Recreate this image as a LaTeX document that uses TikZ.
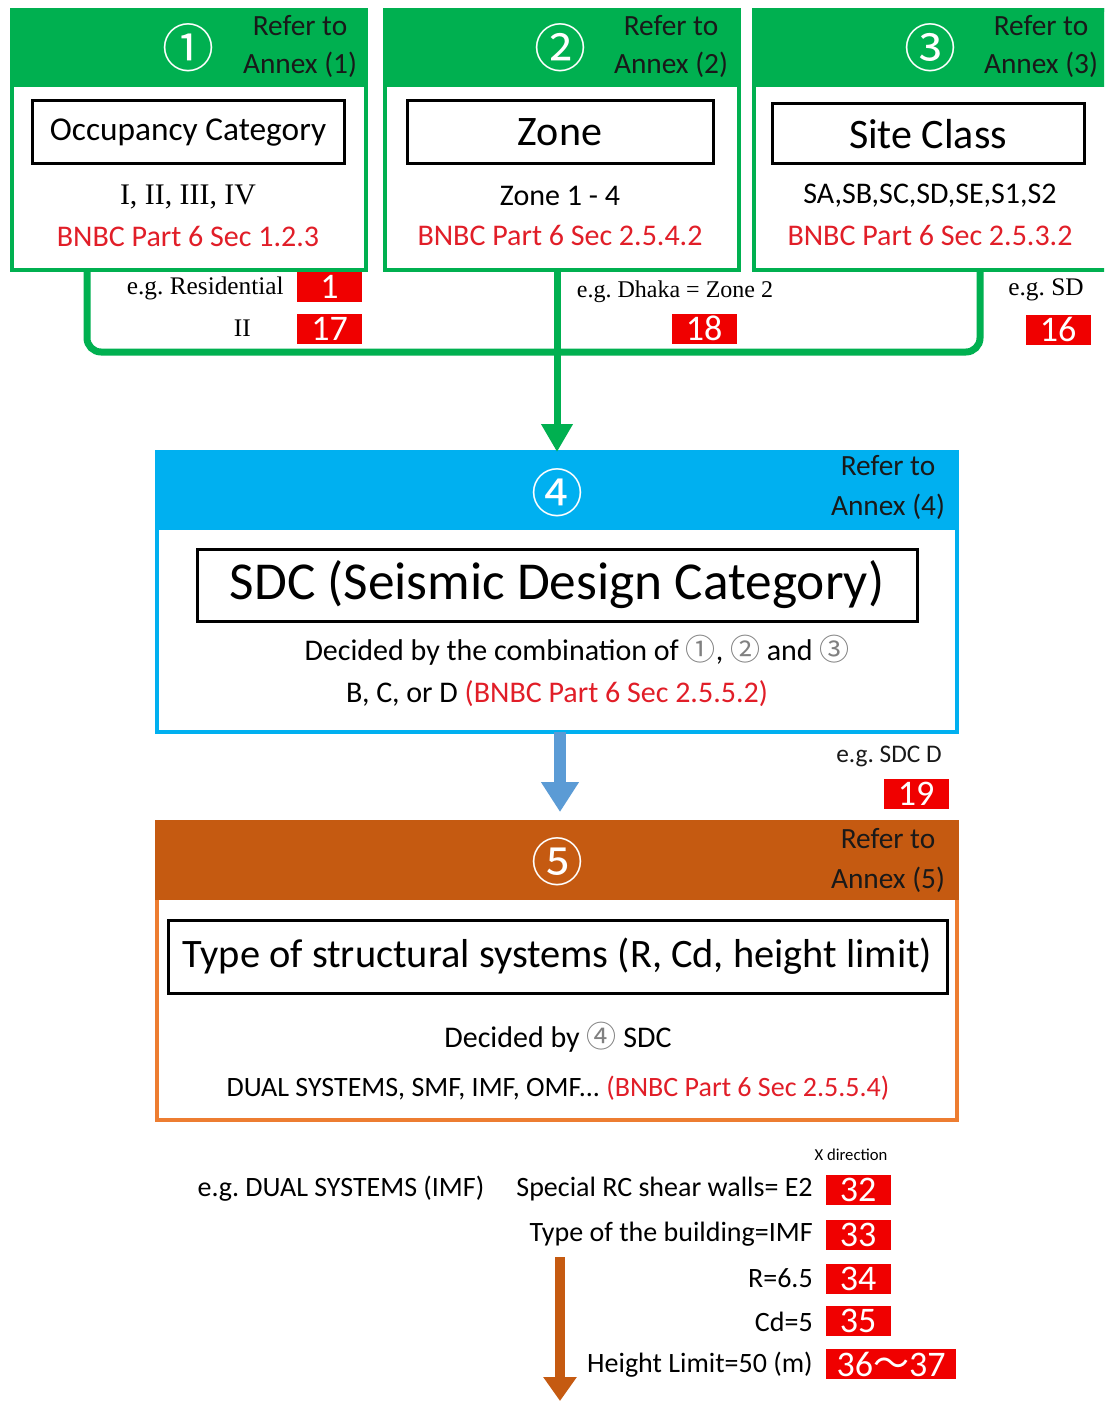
\documentclass[tikz,border=0pt]{standalone}
\usepackage{fontspec}
\setmainfont{Carlito}
\newfontfamily\tms{Liberation Serif}
\newfontfamily\cjk{Noto Sans CJK JP}
\usetikzlibrary{arrows.meta}
\frenchspacing
\definecolor{grn}{RGB}{0,176,80}
\definecolor{sky}{RGB}{0,176,240}
\definecolor{org}{RGB}{197,90,17}
\definecolor{orgl}{RGB}{237,125,49}
\definecolor{arrblue}{RGB}{91,155,213}
\definecolor{redb}{RGB}{240,0,0}
\definecolor{bnbc}{RGB}{225,30,40}
\definecolor{hdtxt}{RGB}{25,25,25}
\tikzset{
  outerbox/.style={draw=#1, line width=3pt, fill=white, anchor=north west, inner sep=0pt, outer sep=0pt},
  innerbox/.style={draw=black, line width=2.25pt, fill=white, inner sep=0pt},
  redbox/.style={fill=redb, text=white, minimum width=48.75pt, minimum height=22.5pt, inner sep=0pt, font=\fontsize{27}{27}\selectfont},
  circnum/.style={text=white, inner sep=0pt, font=\cjk\fontsize{39}{39}\selectfont},
  refer/.style={text=hdtxt, align=center, inner sep=0pt, font=\fontsize{22}{28.5}\selectfont},
  lbl/.style={inner sep=0pt, font=\fontsize{21}{21}\selectfont},
  serif/.style={inner sep=0pt, font=\tms\fontsize{19}{19}\selectfont},
}
\begin{document}
\begin{tikzpicture}[x=0.75pt,y=-0.75pt]
\useasboundingbox (0,0) rectangle (1104,1402);
\clip (0,0) rectangle (1104,1402);
\fill[white] (0,0) rectangle (1104,1402);

% ---------- top three boxes ----------
\node[outerbox=grn, minimum width=265.5pt, minimum height=195pt] (b1) at (12,10) {};
\node[outerbox=grn, minimum width=265.5pt, minimum height=195pt] (b2) at (385,10) {};
\node[outerbox=grn, minimum width=265.5pt, minimum height=195pt] (b3) at (754,10) {};
\foreach \b in {b1,b2,b3}{
  \fill[grn] ([shift={(-2,-2)}]\b.north west) rectangle ([shift={(2,77)}]\b.north east);
}
\node[circnum] (c1) at (188,48) {①};
\node[circnum] (c2) at (560,48) {②};
\node[circnum] (c3) at (930,48) {③};
\node[refer] (a1) at (300,46) {Refer to\\Annex (1)};
\node[refer] (a2) at (671,46) {Refer to\\Annex (2)};
\node[refer] (a3) at (1041,46) {Refer to\\Annex (3)};

\node[innerbox, minimum width=234pt, minimum height=47.25pt, font=\fontsize{25}{25}\selectfont] (t1) at (188,132.5) {Occupancy Category};
\node[innerbox, minimum width=229.5pt, minimum height=47.25pt, font=\fontsize{31.5}{31.5}\selectfont] (t2) at (560,132.5) {Zone};
\node[innerbox, minimum width=234pt, minimum height=45pt, font=\fontsize{31.5}{31.5}\selectfont] (t3) at (928,134) {Site Class};

\node[inner sep=0pt, font=\tms\fontsize{22.4}{22.4}\selectfont] (v1) at (188,197) {I, II, III, IV};
\node[inner sep=0pt, font=\fontsize{22.5}{22.5}\selectfont, text=bnbc] (s1) at (188,236) {BNBC Part 6 Sec 1.2.3};
\node[inner sep=0pt, font=\fontsize{22.5}{22.5}\selectfont] (v2) at (560,196) {Zone 1 - 4};
\node[inner sep=0pt, font=\fontsize{22.5}{22.5}\selectfont, text=bnbc] (s2) at (560,235) {BNBC Part 6 Sec 2.5.4.2};
\node[inner sep=0pt, font=\fontsize{22.5}{22.5}\selectfont] (v3) at (930,196) {SA,SB,SC,SD,SE,S1,S2};
\node[inner sep=0pt, font=\fontsize{22.5}{22.5}\selectfont, text=bnbc] (s3) at (930,235) {BNBC Part 6 Sec 2.5.3.2};

% ---------- box 4 ----------
\node[outerbox=sky, minimum width=600pt, minimum height=210pt] (b4) at (157,452) {};
\fill[sky] ([shift={(-2,-2)}]b4.north west) rectangle ([shift={(2,78)}]b4.north east);
\node[circnum] (c4) at (557,493) {④};
\node[refer, font=\fontsize{22}{30}\selectfont] (a4) at (888,487) {Refer to\\Annex (4)};
\node[innerbox, minimum width=540pt, minimum height=54pt, font=\fontsize{40}{40}\selectfont] (t4) at (557,585) {SDC (Seismic Design Category)};
\node[lbl, font=\fontsize{22.5}{22.5}\selectfont] (d4) at (577,650) {Decided by the combination of {\cjk\color{gray}①}, {\cjk\color{gray}②} and {\cjk\color{gray}③}};
\node[lbl, font=\fontsize{22.5}{22.5}\selectfont] (e4) at (557,694) {B, C, or D {\color{bnbc}(BNBC Part 6 Sec 2.5.5.2)}};

% ---------- box 5 ----------
\node[outerbox=orgl, minimum width=600pt, minimum height=223.5pt] (b5) at (157,822) {};
\fill[org] ([shift={(-2,-2)}]b5.north west) rectangle ([shift={(2,78)}]b5.north east);
\node[circnum] (c5) at (557,862) {⑤};
\node[refer, font=\fontsize{22}{30}\selectfont] (a5) at (888,860) {Refer to\\Annex (5)};
\node[innerbox, minimum width=584.25pt, minimum height=54.75pt, font=\fontsize{30.3}{30.3}\selectfont] (t5) at (557.5,956.5) {Type of structural systems (R, Cd, height limit)};
\node[lbl, font=\fontsize{22.5}{22.5}\selectfont] (d5) at (558,1037) {Decided by {\cjk\color{gray}④} SDC};
\node[lbl] (e5) at (558,1088) {DUAL SYSTEMS, SMF, IMF, OMF... {\color{bnbc}(BNBC Part 6 Sec 2.5.5.4)}};

% ---------- green connectors ----------
\coordinate (hub) at (557,352);
\draw[grn, line width=5.25pt, rounded corners=10.5pt] ([xshift=56.25pt]b1.south west) |- (hub) -| ([xshift=169.5pt]b3.south west);
\draw[grn, line width=5.25pt] (b2.south -| hub) -- (hub);
\draw[grn, line width=5.25pt, -{Triangle[width=22.5pt,length=21pt]}] (hub) -- (b4.north);

% labels under top boxes
\node[serif, anchor=east] (l1) at (284,288) {e.g. Residential};
\node[redbox] (r1) at (329.5,287) {1};
\node[serif, anchor=east] (l17) at (251,328) {II};
\node[redbox] (r17) at (329.5,328.5) {17};
\node[serif, font=\tms\fontsize{18}{18}\selectfont] (l18) at (675,292) {e.g. Dhaka = Zone 2};
\node[redbox] (r18) at (704,328.5) {18};
\node[serif] (l16) at (1046,290) {e.g. SD};
\node[redbox] (r16) at (1058,329.5) {16};

% ---------- blue arrow ----------
\draw[arrblue, line width=9pt, -{Triangle[width=27pt,length=22.5pt]}, shorten >=7.5pt] ([xshift=2.25pt]b4.south) -- ([xshift=2.25pt]b5.north);
\node[lbl, anchor=east, font=\fontsize{19}{19}\selectfont, text=hdtxt] (l19) at (942,756) {e.g. SDC D};
\node[redbox] (r19) at (916,793.5) {19};

% ---------- bottom ----------
\node[lbl, font=\fontsize{12.5}{12.5}\selectfont] (xd) at (851,1155) {X direction};
\node[lbl] (ex) at (341,1189) {e.g. DUAL SYSTEMS (IMF)};
\node[lbl, anchor=east] (q32) at (813,1189) {Special RC shear walls= E2};
\node[redbox] (r32) at (858,1190) {32};
\node[lbl, anchor=east] (q33) at (813,1234) {Type of the building=IMF};
\node[redbox] (r33) at (858,1234.5) {33};
\node[lbl, anchor=east] (q34) at (813,1278) {R=6.5};
\node[redbox] (r34) at (858,1278.5) {34};
\node[lbl, anchor=east] (q35) at (813,1322) {Cd=5};
\node[redbox] (r35) at (858,1321) {35};
\node[lbl, anchor=east] (q36) at (813,1365) {Height Limit=50 (m)};
\node[redbox, minimum width=97.5pt] (r36) at (891,1364) {36{\cjk ～}37};

\coordinate (oa) at (560,1257);
\coordinate (ob) at (560,1401);
\draw[org, line width=7.5pt, -{Triangle[width=24pt,length=18pt]}] (oa) -- (ob);
\end{tikzpicture}
\end{document}
